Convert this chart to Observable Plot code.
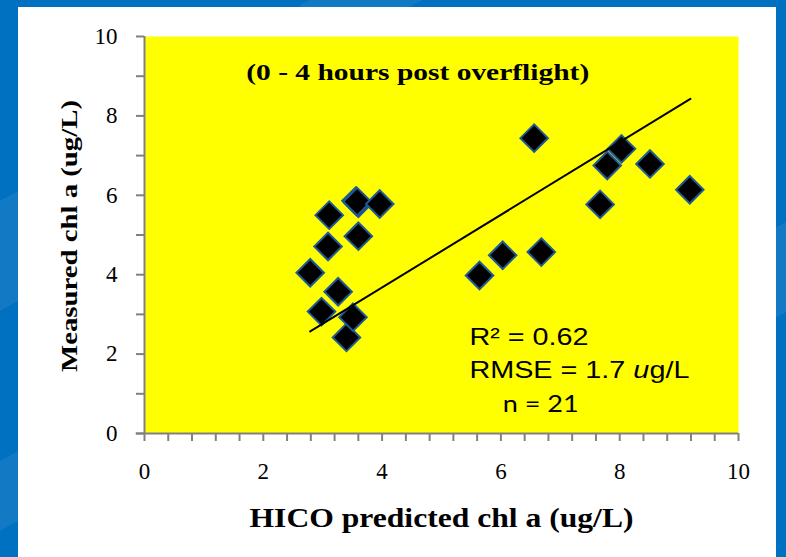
<!DOCTYPE html>
<html>
<head>
<meta charset="utf-8">
<script src="https://cdn.jsdelivr.net/npm/d3@7"></script>
<script src="https://cdn.jsdelivr.net/npm/@observablehq/plot@0.6"></script>
<style>
  html, body { margin: 0; padding: 0; }
  #slide {
    position: relative;
    width: 786px;
    height: 557px;
    overflow: hidden;
    background: #0070c0;
  }
  .sheen {
    position: absolute;
    background: rgba(255, 255, 255, 0.07);
    transform: skewY(-28deg);
  }
  #panel {
    position: absolute;
    left: 18px;
    top: 7px;
    width: 758px;
    height: 550px;
    background: #ffffff;
  }
  #chart { position: absolute; left: 0; top: 0; }
</style>
</head>
<body>
<div id="slide">
  <div class="sheen" style="left:-40px; top:190px; width:120px; height:110px;"></div>
  <div class="sheen" style="left:-40px; top:450px; width:120px; height:70px;"></div>
  <div class="sheen" style="left:300px; top:-40px; width:170px; height:60px;"></div>
  <div class="sheen" style="left:760px; top:220px; width:60px; height:90px;"></div>
  <div id="panel"></div>
  <div id="chart"></div>
</div>
<script>
// HICO-predicted vs. field-measured chlorophyll a, 0–4 h after overflight
const hicoChl = [2.79, 2.98, 3.11, 3.09, 3.26, 3.40, 3.51, 3.56, 3.60, 3.58, 3.60, 3.96,
                 5.64, 6.03, 6.56, 6.68, 7.67, 7.79, 8.03, 8.51, 9.18];
const measuredChl = [4.05, 3.07, 5.50, 4.71, 3.57, 2.42, 2.93, 5.86, 5.80, 5.84, 4.97, 5.78,
                     3.98, 4.49, 7.44, 4.57, 5.77, 6.75, 7.17, 6.79, 6.14];

// Least-squares trend line end points
const fitX = [2.79, 9.19];
const fitY = [2.57, 8.43];

// Axis ticks and labels
const xLabelTicks = [0, 2, 4, 6, 8, 10];
const yLabelTicks = [0, 2, 4, 6, 8, 10];
const xMinorTicks = d3.range(0, 10.001, 0.4);
const yMinorTicks = d3.range(0, 10.001, 1);

const stats = ["R² = 0.62", "RMSE = 1.7 ug/L", "n = 21"];

const points = hicoChl.map((x, i) => ({x, y: measuredChl[i]}));
const fit = fitX.map((x, i) => ({x, y: fitY[i]}));

const axisGray = "#808080";

const chart = Plot.plot({
  width: 786,
  height: 557,
  marginLeft: 144,
  marginRight: 48,
  marginTop: 36,
  marginBottom: 124,
  x: {domain: [0, 10]},
  y: {domain: [0, 10]},
  style: {background: "transparent", fontFamily: "'Liberation Serif', serif", color: "black"},
  marks: [
    Plot.frame({fill: "#ffff00", stroke: null}),
    // tick marks
    Plot.axisX({ticks: xMinorTicks, tickSize: 8, tickFormat: () => "", stroke: axisGray, strokeWidth: 2, label: null}),
    Plot.axisY({ticks: yMinorTicks, tickSize: 8, tickFormat: () => "", stroke: axisGray, strokeWidth: 2, label: null}),
    // tick labels
    Plot.axisX({ticks: xLabelTicks, tickSize: 0, tickPadding: 29, fontSize: 23, label: null}),
    Plot.axisY({ticks: yLabelTicks, tickSize: 0, tickPadding: 27, fontSize: 23, label: null}),
    // axis lines
    Plot.ruleX([0], {stroke: axisGray, strokeWidth: 2}),
    Plot.ruleY([0], {x1: -0.14, x2: 10, stroke: axisGray, strokeWidth: 2}),
    // observations
    Plot.dot(points, {x: "x", y: "y", symbol: "diamond2", r: 12.4, fill: "black", stroke: "#1f5a96", strokeWidth: 2}),
    // trend line
    Plot.line(fit, {x: "x", y: "y", stroke: "black", strokeWidth: 2}),
    // annotations
    Plot.text(["(0 - 4 hours post overflight)"], {x: 4.60, y: 9.09, text: d => d, fontSize: 23, fontWeight: "bold", textAnchor: "middle"}),
    Plot.text([stats[0]], {x: 5.47, y: 2.43, text: d => d, fontSize: 24, textAnchor: "start", fontFamily: "'Liberation Sans', Arial, sans-serif"}),
    Plot.text([stats[1]], {x: 5.47, y: 1.60, text: d => d, fontSize: 24, textAnchor: "start", fontFamily: "'Liberation Sans', Arial, sans-serif"}),
    Plot.text([stats[2]], {x: 6.03, y: 0.74, text: d => d, fontSize: 24, textAnchor: "start", fontFamily: "Lato, 'Liberation Sans', sans-serif"}),
    // axis titles
    Plot.text(["HICO predicted chl a (ug/L)"], {frameAnchor: "bottom", dy: 85, text: d => d, fontSize: 27, fontWeight: "bold", textAnchor: "middle", lineAnchor: "middle"}),
    Plot.text(["Measured chl a (ug/L)"], {frameAnchor: "left", dx: -75, dy: 1, rotate: -90, text: d => d, fontSize: 24, fontWeight: "bold", textAnchor: "middle", lineAnchor: "middle"})
  ]
});

// Fit text runs to their set widths; italicise the unit prefix
const runWidths = {
  "HICO predicted chl a (ug/L)": 384,
  "Measured chl a (ug/L)": 272,
  "(0 - 4 hours post overflight)": 343,
  "R² = 0.62": 119,
  "RMSE = 1.7 ug/L": 220,
  "n = 21": 76
};
d3.select(chart).selectAll("text").each(function() {
  const t = d3.select(this);
  const s = this.textContent;
  if (!(s in runWidths)) return;
  if (s === "RMSE = 1.7 ug/L") {
    t.text(null);
    t.append("tspan").text("RMSE = 1.7 ");
    t.append("tspan").attr("font-style", "italic").text("u");
    t.append("tspan").text("g/L");
  }
  t.attr("textLength", runWidths[s]).attr("lengthAdjust", "spacingAndGlyphs");
});

document.getElementById("chart").appendChild(chart);
</script>
</body>
</html>
